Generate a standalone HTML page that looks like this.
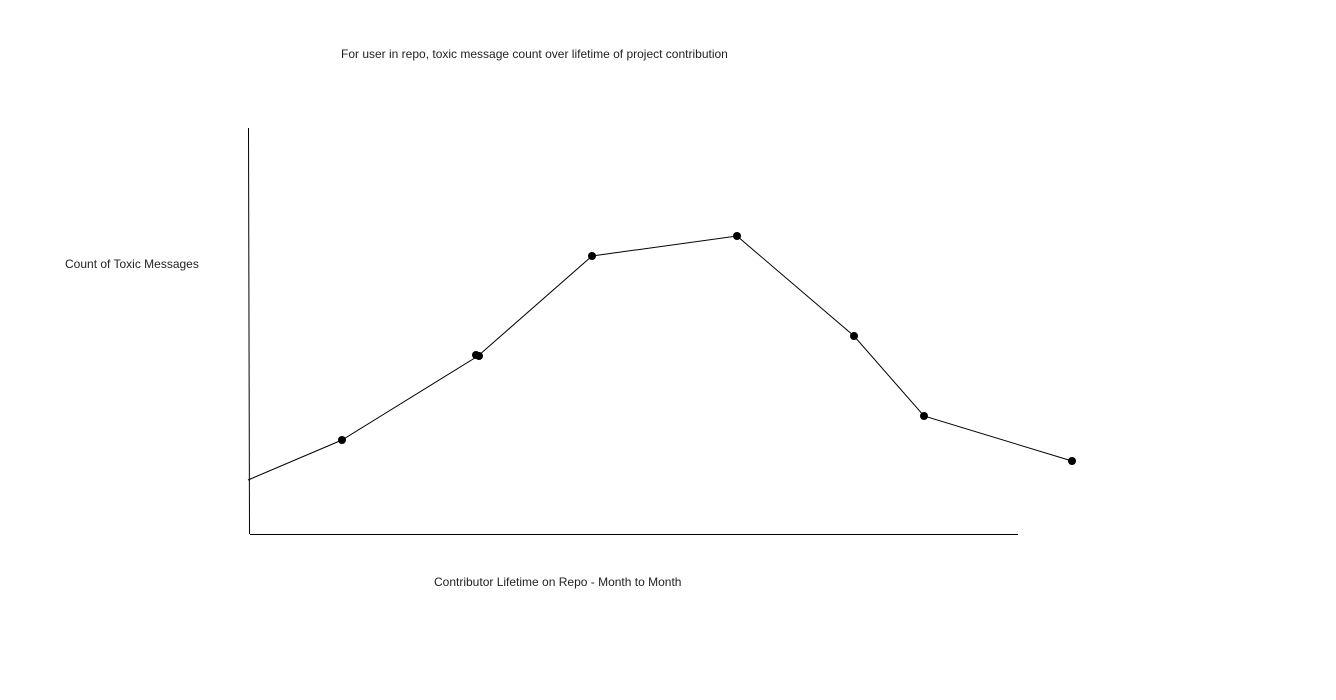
<!DOCTYPE html>
<html><head><style>
body{margin:0;background:#fff;width:1336px;height:700px;overflow:hidden}
</style></head><body>
<svg width="1336" height="700" xmlns="http://www.w3.org/2000/svg" style="position:absolute;left:0;top:0">
<g font-family="Liberation Sans, Arial, sans-serif" font-size="12" fill="#222">
<text x="341" y="58">For user in repo, toxic message count over lifetime of project contribution</text>
<text x="65" y="268">Count of Toxic Messages</text>
<text x="434" y="586">Contributor Lifetime on Repo - Month to Month</text>
</g>
<line x1="248.5" y1="128" x2="249.5" y2="534" stroke="#000" stroke-width="1"/>
<line x1="250" y1="534.5" x2="1018" y2="534.5" stroke="#000" stroke-width="1"/>
<polyline fill="none" stroke="#000" stroke-width="1" points="248,480 342,440 478,356 592,256 737,236 854,336 924,416 1072,461"/>
<g fill="#000">
<circle cx="342" cy="440" r="4"/>
<circle cx="476" cy="355" r="4"/>
<circle cx="479" cy="356" r="4"/>
<circle cx="592" cy="256" r="4"/>
<circle cx="737" cy="236" r="4"/>
<circle cx="854" cy="336" r="4"/>
<circle cx="924" cy="416" r="4"/>
<circle cx="1072" cy="461" r="4"/>
</g>
</svg>
</body></html>
